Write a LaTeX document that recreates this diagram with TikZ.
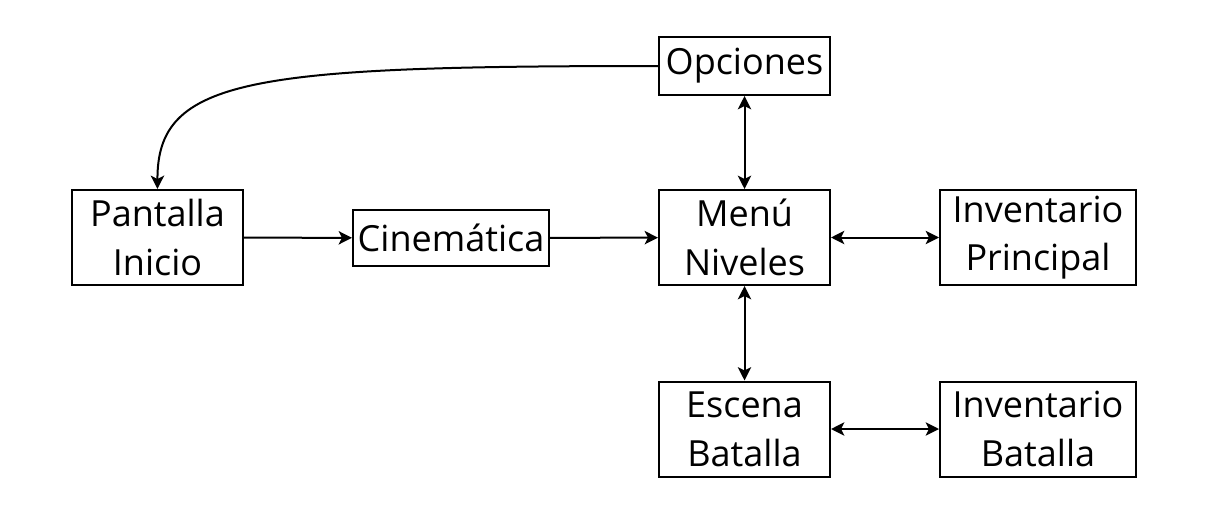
\documentclass[tikz,border=0pt]{standalone}
\usepackage{fontspec}
\setmainfont{Open Sans}
\usetikzlibrary{arrows.meta}
\begin{document}
\begin{tikzpicture}[x=0.75pt,y=-0.75pt,
  box/.style={draw,line width=1.5pt,inner sep=0pt,align=center,
    font=\fontsize{27}{36.5}\selectfont},
  tall/.style={box,minimum width=128.25pt,minimum height=71.25pt},
  wide/.style={box,minimum width=147pt,minimum height=71.25pt},
  tip/.style={Stealth[length=10pt,width=10pt,inset=2.5pt]},
  arr/.style={line width=1.5pt,-{Stealth[length=10pt,width=10pt,inset=2.5pt]}},
  darr/.style={line width=1.5pt,{Stealth[length=10pt,width=10pt,inset=2.5pt]}-{Stealth[length=10pt,width=10pt,inset=2.5pt]}}]
\useasboundingbox (0,0) rectangle (1223,514);
\node[box,minimum width=128.25pt,minimum height=43.5pt] (opc) at (744.5,66) {Opciones};
\node[tall] (pan) at (157.5,237.5) {Pantalla\\Inicio};
\node[box,minimum width=147pt,minimum height=42pt] (cin) at (451,238) {Cinemática};
\node[tall] (menu) at (744.5,237.5) {Menú\\Niveles};
\node[wide] (invp) at (1038,237.5) {Inventario\\Principal};
\node[tall] (esc) at (744.5,429) {Escena\\Batalla};
\node[wide] (invb) at (1038,429) {Inventario\\Batalla};
\draw[arr] (opc.west) .. controls (250,66) and (157,78) .. (pan.north);
\draw[arr] (pan) -- (cin);
\draw[arr] (cin) -- (menu);
\draw[darr] (opc) -- (menu);
\draw[darr] (menu) -- (invp);
\draw[darr] (menu) -- (esc);
\draw[darr] (esc) -- (invb);
\end{tikzpicture}
\end{document}
